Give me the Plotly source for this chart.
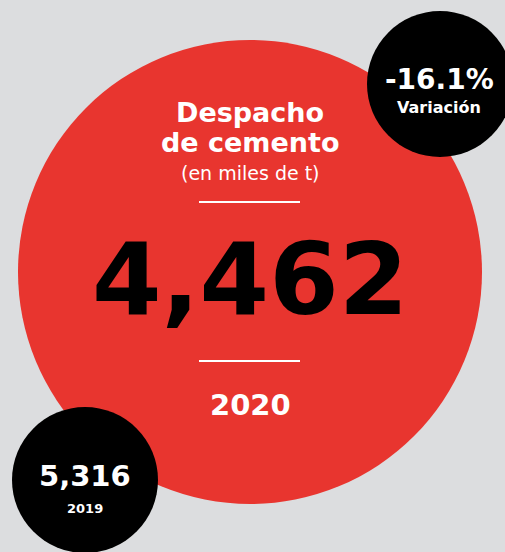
import plotly.graph_objects as go

# data
years = ["2019", "2020"]
despacho = [5316, 4462]          # miles de t
variacion = [-16.1]              # %
titulo = ["Despacho", "de cemento"]
unidad = "(en miles de t)"
etiqueta_var = "Variación"

W, H = 505, 552
RED = "#e8352f"
BG = "#dcdddf"
FONT = "DejaVu Sans"

fig = go.Figure()
# invisible trace so axes exist
fig.add_trace(go.Scatter(x=[0, W], y=[0, H], mode="markers",
                         marker=dict(opacity=0), hoverinfo="skip", showlegend=False))


def circle(cx, cy, r, color):
    fig.add_shape(type="circle", xref="x", yref="y",
                  x0=cx - r, x1=cx + r, y0=cy - r, y1=cy + r,
                  fillcolor=color, line=dict(width=0), layer="below")


def text(x, y, s, size, weight=700, color="white"):
    fig.add_annotation(x=x, y=y, xref="x", yref="y", text=s, showarrow=False,
                       font=dict(family=FONT, size=size, color=color, weight=weight),
                       xanchor="center", yanchor="middle")


circle(250, 272, 232, RED)
circle(440, 84, 73, "black")
circle(85, 480, 73, "black")

# main circle text
text(250, 112, titulo[0], 27)
text(250, 142, titulo[1], 27)
text(250, 173, unidad, 19, weight=400)
text(250, 279, f"{despacho[1]:,}", 100, weight=900, color="black")
text(250, 405, years[1], 29)

for ly in (202, 361):
    fig.add_shape(type="line", xref="x", yref="y", x0=199, x1=300, y0=ly, y1=ly,
                  line=dict(color="white", width=2))

# variation bubble
text(439, 79, f"{variacion[0]:.1f}%", 28)
text(439, 107, etiqueta_var, 16)

# previous year bubble
text(85, 476, f"{despacho[0]:,}", 29)
text(85, 508, years[0], 13)

fig.update_xaxes(range=[0, W], visible=False, fixedrange=True)
fig.update_yaxes(range=[H, 0], visible=False, fixedrange=True)
fig.update_layout(width=W, height=H, margin=dict(l=0, r=0, t=0, b=0),
                  paper_bgcolor=BG, plot_bgcolor=BG, showlegend=False)

fig.write_html("out.html", config={"displayModeBar": False},
               post_script="document.body.style.margin='0';")
